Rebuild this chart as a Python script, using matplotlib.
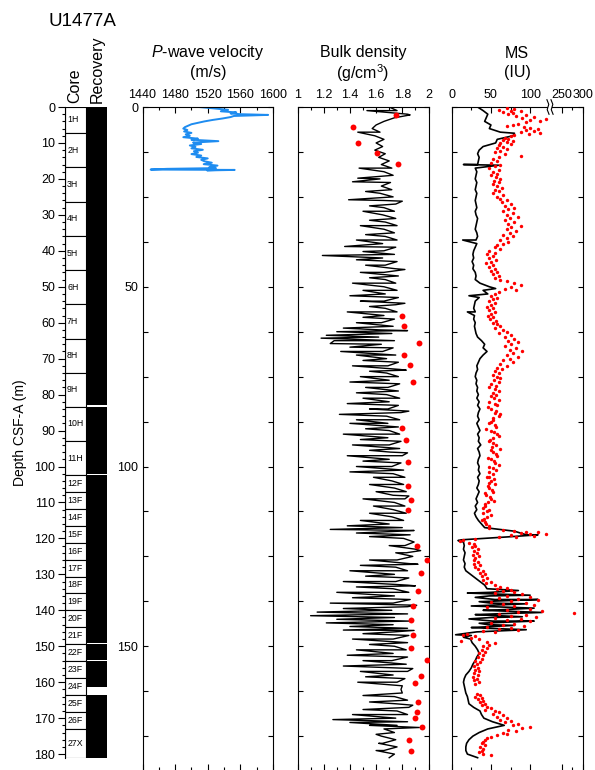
import numpy as np
import matplotlib.pyplot as plt
from matplotlib.patches import Rectangle
from matplotlib.ticker import MultipleLocator, FixedLocator, FixedFormatter

plt.rcParams['font.family'] = ['Liberation Sans', 'DejaVu Sans']
plt.rcParams['mathtext.fontset'] = 'custom'
plt.rcParams['mathtext.rm'] = 'Liberation Sans'
plt.rcParams['mathtext.it'] = 'Liberation Sans:italic'

# ---------------- data ----------------
core_name = ['1H', '2H', '3H', '4H', '5H', '6H', '7H', '8H', '9H', '10H', '11H',
             '12F', '13F', '14F', '15F', '16F', '17F', '18F', '19F', '20F', '21F',
             '22F', '23F', '24F', '25F', '26F', '27X']
core_top = [0.0, 7.2, 16.8, 26.4, 35.9, 45.4, 54.9, 64.4, 73.9, 83.4, 92.9,
            102.4, 107.1, 111.8, 116.5, 121.2, 125.9, 130.6, 135.3, 140.0, 144.7,
            149.4, 154.1, 158.8, 163.5, 168.2, 172.9]
core_bot = [7.2, 16.8, 26.4, 35.9, 45.4, 54.9, 64.4, 73.9, 83.4, 92.9, 102.4,
            107.1, 111.8, 116.5, 121.2, 125.9, 130.6, 135.3, 140.0, 144.7, 149.4,
            154.1, 158.8, 163.5, 168.2, 172.9, 181.0]
rec_bot = [7.2, 16.8, 26.4, 35.9, 45.4, 54.9, 64.4, 73.9, 83.0, 92.9, 102.0,
           107.1, 111.8, 116.5, 121.2, 125.9, 130.6, 135.3, 140.0, 144.7, 149.0,
           153.8, 158.8, 161.2, 168.2, 172.9, 181.0]

# P-wave (only top of hole)
pw_depth = [0.0, 0.4, 0.8, 1.2, 1.5, 1.8, 2.0, 2.2, 2.5, 2.8,
            3.2, 3.6, 4.0, 4.4, 4.8, 5.2, 5.6, 6.0, 6.4, 6.8,
            7.2, 7.6, 8.0, 8.4, 8.8, 9.1, 9.5, 9.9, 10.3, 10.7,
            11.1, 11.5, 11.9, 12.3, 12.7, 13.1, 13.5, 13.9, 14.3, 14.7,
            15.1, 15.5, 15.9, 16.3, 16.7, 17.0, 17.2, 17.4, 17.5, 17.6,
            17.7]
pw_vel = [1509, 1528, 1545, 1536, 1555, 1548, 1560, 1594, 1552, 1548,
          1538, 1526, 1516, 1508, 1500, 1496, 1492, 1490, 1495, 1491,
          1500, 1493, 1498, 1490, 1508, 1500, 1533, 1502, 1512, 1498,
          1505, 1500, 1514, 1503, 1508, 1500, 1512, 1506, 1520, 1512,
          1516, 1525, 1515, 1532, 1522, 1530, 1470, 1450, 1553, 1530,
          1520]

# GRA bulk density, read every 1 m from 0 m (alternating band edges)
dens_val = [1.70, 1.76, 1.84, 1.74, 1.66, 1.60, 1.57, 1.63, 1.59, 1.66,
            1.60, 1.65, 1.59, 1.67, 1.62, 1.70, 1.64, 1.72, 1.66, 1.73,
            1.63, 1.71, 1.64, 1.72, 1.63, 1.73, 1.66, 1.75, 1.66, 1.74,
            1.65, 1.75, 1.67, 1.76, 1.66, 1.74, 1.67, 1.76, 1.65, 1.75,
            1.66, 1.74, 1.65, 1.76, 1.67, 1.75, 1.66, 1.77, 1.67, 1.75,
            1.66, 1.76, 1.67, 1.77, 1.66, 1.75, 1.67, 1.76, 1.66, 1.74,
            1.64, 1.73, 1.63, 1.72, 1.62, 1.74, 1.64, 1.73, 1.65, 1.75,
            1.68, 1.77, 1.69, 1.78, 1.68, 1.77, 1.70, 1.78, 1.69, 1.77,
            1.68, 1.78, 1.70, 1.77, 1.69, 1.79, 1.68, 1.78, 1.69, 1.77,
            1.70, 1.78, 1.69, 1.79, 1.70, 1.78, 1.71, 1.80, 1.70, 1.79,
            1.72, 1.81, 1.73, 1.82, 1.72, 1.81, 1.74, 1.83, 1.73, 1.82,
            1.74, 1.82, 1.73, 1.83, 1.72, 1.81, 1.70, 1.80, 1.78, 1.86,
            1.81, 1.89, 1.82, 1.90, 1.83, 1.88, 1.76, 1.85, 1.75, 1.84,
            1.74, 1.85, 1.75, 1.84, 1.73, 1.85, 1.74, 1.86, 1.73, 1.84,
            1.72, 1.84, 1.74, 1.85, 1.73, 1.84, 1.74, 1.85, 1.73, 1.84,
            1.74, 1.83, 1.73, 1.84, 1.72, 1.83, 1.74, 1.84, 1.73, 1.82,
            1.76, 1.80, 1.79, 1.80, 1.74, 1.84, 1.75, 1.85, 1.76, 1.84,
            1.75, 1.84, 1.76, 1.66, 1.74, 1.64, 1.75, 1.65, 1.76, 1.66,
            1.74, 1.70]
# narrow excursions of the density log
dens_spk_depth = [1.0, 2.2, 7.0, 17.0, 19.8, 20.8, 23.5, 25.8, 26.2, 27.5,
                  29.0, 31.5, 33.0, 35.5, 37.0, 38.8, 40.2, 41.3, 42.5, 44.0,
                  45.2, 46.0, 47.5, 49.0, 51.0, 52.5, 54.0, 54.6, 55.5, 57.0,
                  58.5, 60.0, 61.5, 62.2, 62.5, 63.5, 64.3, 65.0, 65.8, 66.8,
                  68.0, 69.0, 70.5, 72.0, 73.2, 73.5, 75.0, 76.5, 78.0, 79.5,
                  81.0, 82.5, 84.0, 84.6, 85.5, 87.0, 88.0, 89.5, 91.0, 92.5,
                  94.0, 95.5, 96.2, 97.0, 98.5, 100.0, 101.5, 103.0, 105.0, 107.0,
                  108.2, 109.0, 111.0, 113.0, 115.0, 116.5, 117.5, 117.8, 118.5, 119.5,
                  122.0, 123.4, 124.0, 126.0, 127.2, 127.5, 129.0, 130.5, 132.0, 133.2,
                  133.5, 135.0, 136.5, 138.0, 138.6, 139.5, 140.5, 141.5, 142.5, 143.5,
                  144.5, 145.5, 145.6, 146.5, 148.0, 149.5, 151.0, 152.5, 154.0, 155.5,
                  156.2, 157.0, 158.5, 160.0, 163.7, 165.5, 166.4, 167.6, 169.0, 170.4,
                  171.2, 172.0, 172.6, 174.5, 177.0, 179.0]
dens_spk_val = [1.53, 1.86, 1.46, 1.47, 1.46, 1.42, 1.52, 1.39, 1.80, 1.55,
                1.50, 1.55, 1.48, 1.52, 1.45, 1.36, 1.50, 1.19, 1.45, 1.52,
                1.82, 1.48, 1.55, 1.42, 1.50, 1.40, 1.48, 1.82, 1.55, 1.38,
                1.50, 1.45, 1.35, 1.84, 1.30, 1.22, 1.18, 1.28, 1.25, 1.40,
                1.33, 1.45, 1.50, 1.42, 1.83, 1.55, 1.48, 1.40, 1.52, 1.45,
                1.50, 1.38, 1.55, 1.85, 1.32, 1.45, 1.40, 1.52, 1.35, 1.48,
                1.42, 1.55, 1.84, 1.38, 1.50, 1.45, 1.40, 1.58, 1.55, 1.60,
                1.85, 1.50, 1.58, 1.55, 1.48, 1.38, 1.25, 1.89, 1.45, 1.55,
                1.70, 1.94, 1.75, 1.55, 1.92, 1.48, 1.40, 1.52, 1.35, 1.90,
                1.45, 1.30, 1.42, 1.25, 1.91, 1.35, 1.15, 1.10, 1.30, 1.22,
                1.40, 1.35, 1.89, 1.50, 1.42, 1.55, 1.45, 1.38, 1.50, 1.35,
                1.88, 1.48, 1.52, 1.46, 1.50, 1.55, 1.88, 1.50, 1.42, 1.27,
                1.40, 1.55, 1.93, 1.60, 1.62, 1.60]
# discrete (MAD) bulk density
mad_depth = [2.2, 5.5, 9.9, 12.8, 15.8, 58.0, 61.0, 65.6, 69.0, 71.8,
             76.5, 89.3, 92.6, 98.7, 105.4, 109.3, 112.1, 122.1, 126.0, 129.6,
             134.6, 138.8, 142.7, 146.9, 150.5, 153.8, 158.3, 160.2, 165.5, 168.3,
             170.0, 172.5, 176.1, 179.1]
mad_dens = [1.75, 1.42, 1.46, 1.61, 1.77, 1.80, 1.81, 1.93, 1.81, 1.86,
            1.88, 1.80, 1.83, 1.84, 1.84, 1.87, 1.84, 1.91, 1.99, 1.94,
            1.92, 1.88, 1.87, 1.88, 1.87, 1.99, 1.94, 1.90, 1.92, 1.91,
            1.90, 1.95, 1.85, 1.87]

# whole-round MS, read every 1 m from 0 m
ms_val = [33, 40, 46, 44, 42, 50, 48, 62, 78, 58,
          56, 40, 35, 33, 35, 34, 33, 30, 32, 31,
          30, 32, 31, 30, 32, 31, 30, 31, 32, 30,
          31, 33, 32, 31, 30, 32, 33, 31, 32, 30,
          28, 27, 28, 26, 28, 27, 30, 31, 30, 36,
          48, 40, 46, 35, 30, 29, 28, 30, 29, 28,
          30, 29, 30, 31, 33, 38, 42, 40, 45, 40,
          36, 34, 32, 33, 31, 30, 32, 31, 33, 32,
          34, 32, 35, 33, 36, 34, 33, 35, 32, 34,
          36, 33, 35, 34, 37, 33, 35, 36, 34, 33,
          35, 34, 36, 33, 35, 34, 32, 35, 33, 31,
          33, 30, 32, 29, 31, 34, 38, 42, 80, 95,
          40, 15, 16, 15, 17, 16, 15, 17, 16, 18,
          24, 30, 36, 42, 45, 50, 48, 55, 50, 52,
          48, 55, 50, 52, 46, 45, 32, 25, 24, 26,
          30, 33, 35, 32, 30, 27, 25, 22, 18, 16,
          15, 16, 17, 18, 20, 21, 22, 28, 36, 38,
          41, 52, 67, 46, 35, 27, 22, 19, 18, 18,
          20, 33]
ms_spk_depth = [7.3, 16.0, 16.2, 37.0, 50.5, 52.5, 57.0, 119.0, 119.6, 120.4,
                120.6, 134.5, 135.2, 135.8, 136.4, 137.0, 137.6, 138.2, 138.8, 139.4,
                140.0, 140.6, 141.2, 141.8, 142.4, 143.0, 143.6, 144.2, 144.8, 145.4,
                146.8, 147.5]
ms_spk_val = [80, 15, 60, 14, 56, 22, 20, 110, 70, 12,
              8, 85, 20, 100, 30, 110, 35, 95, 25, 105,
              40, 115, 30, 90, 22, 105, 35, 80, 25, 95,
              5, 15]
# point MS
ms_pt_depth = [0.3, 0.5, 0.8, 1.0, 1.2, 1.5, 1.8, 2.0, 2.3, 2.6,
               2.9, 3.1, 3.4, 3.7, 4.0, 4.3, 4.6, 4.9, 5.2, 5.5,
               5.8, 6.1, 6.4, 6.7, 7.0, 7.3, 7.6, 7.9, 8.2, 8.5,
               8.8, 9.1, 9.4, 9.7, 10.0, 10.3, 10.6, 11.0, 11.4, 11.8,
               12.2, 12.6, 13.0, 13.6, 14.0, 14.5, 15.0, 15.5, 16.0, 16.5,
               17.0, 17.5, 18.0, 18.5, 19.0, 19.5, 20.0, 20.5, 21.0, 21.5,
               22.0, 22.5, 23.0, 23.5, 24.0, 24.5, 25.0, 25.5, 26.0, 26.5,
               27.0, 27.5, 28.0, 28.5, 29.0, 29.5, 30.0, 30.5, 31.0, 31.5,
               32.0, 32.5, 33.0, 33.5, 34.0, 34.5, 35.0, 35.5, 36.0, 36.5,
               37.0, 37.5, 38.0, 38.5, 39.0, 39.5, 40.0, 40.5, 41.0, 41.5,
               42.0, 42.5, 43.0, 43.5, 44.0, 44.5, 45.0, 45.5, 46.0, 46.5,
               47.0, 47.5, 48.0, 48.5, 49.0, 49.5, 50.0, 50.5, 51.0, 51.5,
               52.0, 52.5, 53.0, 53.5, 54.0, 54.5, 55.0, 55.5, 56.0, 56.5,
               57.0, 57.5, 58.0, 58.5, 59.0, 59.5, 60.0, 60.5, 61.0, 61.5,
               62.0, 62.5, 63.0, 63.5, 64.0, 64.5, 65.0, 65.5, 66.0, 66.5,
               67.0, 67.5, 68.0, 68.5, 69.0, 69.5, 70.0, 70.5, 71.0, 71.5,
               72.0, 72.5, 73.0, 73.5, 74.0, 74.5, 75.0, 75.5, 76.0, 76.5,
               77.0, 77.5, 78.0, 78.5, 79.0, 79.5, 80.0, 80.5, 81.0, 81.5,
               82.0, 82.5, 83.0, 83.5, 84.0, 84.5, 85.0, 85.5, 86.0, 86.5,
               87.0, 87.5, 88.0, 88.5, 89.0, 89.5, 90.0, 90.5, 91.0, 91.5,
               92.0, 92.5, 93.0, 93.5, 94.0, 94.5, 95.0, 95.5, 96.0, 96.5,
               97.0, 97.5, 98.0, 98.5, 99.0, 99.5, 100.0, 100.5, 101.0, 101.5,
               102.0, 102.8, 103.0, 103.5, 104.0, 104.5, 105.0, 105.5, 106.0, 106.5,
               107.0, 107.5, 108.0, 108.5, 109.0, 109.5, 110.0, 110.5, 111.0, 111.5,
               112.0, 112.5, 113.0, 113.5, 114.0, 114.5, 115.0, 115.5, 116.0, 116.5,
               117.0, 117.6, 117.9, 118.1, 118.3, 118.5, 118.7, 118.9, 119.1, 119.3,
               119.5, 119.7, 120.2, 120.5, 120.8, 121.2, 121.6, 122.0, 122.5, 123.0,
               123.5, 124.0, 124.5, 125.0, 125.5, 126.0, 126.5, 127.0, 127.5, 128.0,
               128.5, 129.0, 129.5, 130.0, 130.5, 131.0, 131.5, 132.0, 132.5, 133.0,
               133.5, 133.8, 134.1, 134.4, 134.7, 135.0, 135.3, 135.6, 135.9, 136.2,
               136.5, 136.8, 137.1, 137.4, 137.7, 138.0, 138.3, 138.6, 138.9, 139.2,
               139.5, 139.8, 140.1, 140.4, 140.7, 141.0, 141.3, 141.6, 141.9, 142.2,
               142.5, 142.8, 143.1, 143.4, 143.7, 144.0, 144.3, 144.6, 144.9, 145.2,
               145.5, 145.8, 146.1, 146.5, 146.8, 147.2, 147.6, 148.0, 148.5, 148.8,
               149.2, 149.6, 150.0, 150.5, 151.0, 151.5, 152.0, 152.5, 153.0, 153.5,
               154.0, 154.5, 155.0, 155.5, 156.0, 156.5, 157.0, 157.5, 158.0, 158.5,
               159.0, 159.5, 160.0, 160.5, 163.2, 163.6, 164.0, 164.4, 164.8, 165.2,
               165.6, 166.0, 166.4, 166.8, 167.2, 167.6, 168.0, 168.4, 168.8, 169.2,
               169.6, 170.0, 170.4, 170.8, 171.2, 171.6, 172.0, 172.4, 172.8, 173.2,
               173.6, 174.0, 174.4, 174.8, 175.2, 175.6, 176.0, 176.5, 177.0, 177.5,
               178.0, 178.5, 179.0, 179.5, 180.0, 180.3]
ms_pt_val = [70, 80, 60, 75, 88, 65, 78, 72, 95, 82,
             105, 90, 120, 100, 112, 95, 85, 78, 70, 92,
             100, 110, 95, 105, 88, 112, 98, 80, 75, 68,
             72, 65, 78, 70, 62, 75, 60, 66, 58, 70,
             62, 55, 68, 88, 60, 52, 58, 50, 62, 55,
             48, 60, 52, 58, 50, 56, 62, 54, 60, 52,
             58, 64, 55, 60, 52, 66, 58, 62, 70, 64,
             75, 68, 80, 72, 66, 78, 70, 85, 74, 68,
             80, 72, 88, 76, 70, 82, 74, 66, 78, 70,
             62, 72, 65, 58, 55, 62, 48, 55, 45, 52,
             48, 56, 50, 44, 52, 48, 55, 50, 58, 52,
             60, 55, 62, 70, 80, 88, 75, 68, 82, 60,
             55, 50, 58, 52, 48, 55, 50, 45, 52, 48,
             55, 50, 46, 53, 49, 56, 52, 58, 62, 55,
             65, 70, 60, 75, 68, 80, 72, 85, 76, 68,
             82, 74, 90, 78, 70, 84, 74, 66, 78, 62,
             70, 58, 64, 55, 60, 52, 58, 62, 54, 60,
             50, 56, 48, 55, 60, 52, 57, 50, 54, 60,
             48, 55, 58, 46, 50, 56, 55, 62, 60, 53,
             52, 50, 47, 55, 56, 44, 50, 54, 58, 60,
             53, 49, 48, 52, 56, 51, 62, 50, 52, 57,
             58, 46, 50, 54, 55, 60, 48, 53, 56, 48,
             52, 47, 45, 54, 50, 48, 55, 46, 47, 51,
             52, 42, 44, 49, 50, 54, 46, 43, 42, 40,
             48, 45, 40, 50, 45, 41, 38, 42, 44, 47,
             48, 65, 80, 95, 110, 88, 120, 100, 75, 105,
             60, 82, 30, 15, 10, 22, 28, 30, 26, 34,
             28, 32, 27, 35, 30, 28, 33, 29, 36, 30,
             34, 40, 36, 42, 38, 45, 40, 50, 44, 55,
             62, 70, 58, 75, 65, 80, 55, 90, 70, 100,
             60, 85, 110, 75, 50, 95, 65, 105, 80, 45,
             100, 70, 115, 85, 280, 60, 95, 75, 108, 55,
             88, 70, 100, 50, 80, 65, 92, 45, 75, 60,
             85, 40, 55, 20, 14, 30, 25, 35, 12, 45,
             55, 48, 40, 45, 38, 42, 35, 40, 33, 38,
             30, 36, 32, 28, 34, 30, 35, 28, 33, 27,
             32, 28, 35, 30, 32, 36, 30, 38, 34, 40,
             36, 42, 38, 45, 50, 42, 55, 60, 52, 65,
             58, 70, 62, 75, 68, 85, 78, 100, 90, 72,
             82, 65, 70, 58, 50, 45, 42, 40, 38, 42,
             36, 40, 38, 35, 40, 50]


def merge(base, spk_d, spk_v):
    # regular log readings plus the narrow excursions, sorted by depth
    d = np.concatenate([np.arange(len(base), dtype=float), spk_d])
    v = np.concatenate([np.asarray(base, float), spk_v])
    o = np.argsort(d, kind='stable')
    return d[o], v[o]


# MS axis is broken between ~124 and ~219 IU
K1, K2, B1, B2 = 0.785, 0.414, 124.0, 218.6


def ms_fwd(x):
    x = np.asarray(x, float)
    return np.where(x <= B1, x * K1, B1 * K1 + np.clip(x - B2, 0, None) * K2)


def ms_inv(u):
    u = np.asarray(u, float)
    return np.where(u <= B1 * K1, u / K1, B2 + (u - B1 * K1) / K2)


# ---------------- layout ----------------
W, H = 595, 770
PXM = 3.595  # pixels per metre


def rect(x0, x1, y0, y1):
    return [x0 / W, 1 - y1 / H, (x1 - x0) / W, (y1 - y0) / H]


fig = plt.figure(figsize=(W / 100, H / 100), dpi=100)

# core / recovery column
ax_c = fig.add_axes(rect(65, 107, 107, 107 + 181.2 * PXM))
ax_c.set_xlim(0, 2)
ax_c.set_ylim(181.2, 0)
for t, b, rb, n in zip(core_top, core_bot, rec_bot, core_name):
    ax_c.add_patch(Rectangle((0, t), 1, b - t, fc='white', ec='black', lw=0.8))
    ax_c.add_patch(Rectangle((1, t), 1, rb - t, fc='black', ec='none'))
    ax_c.text(0.1, (t + b) / 2, n, fontsize=6.3, ha='left', va='center')
for s in ['top', 'right', 'bottom']:
    ax_c.spines[s].set_visible(False)
ax_c.spines['left'].set_linewidth(0.8)
ax_c.set_xticks([])
ax_c.yaxis.set_major_locator(MultipleLocator(10))
ax_c.yaxis.set_minor_locator(MultipleLocator(2))
ax_c.tick_params(axis='y', which='major', direction='out', length=5, width=0.8, labelsize=9, pad=2)
ax_c.tick_params(axis='y', which='minor', direction='out', length=2.5, width=0.8)
ax_c.set_ylabel('Depth CSF-A (m)', fontsize=10, labelpad=5)

fig.text(49 / W, 1 - 22 / H, 'U1477A', fontsize=13.5, ha='left', va='center')
fig.text(75 / W, 1 - 103 / H, 'Core', fontsize=11.5, rotation=90, ha='center', va='bottom')
fig.text(97 / W, 1 - 103 / H, 'Recovery', fontsize=11.5, rotation=90, ha='center', va='bottom')

ybot = 107 + 184.5 * PXM
ax_p = fig.add_axes(rect(142.5, 273.0, 107, ybot))
ax_d = fig.add_axes(rect(297.5, 428.5, 107, ybot))
ax_m = fig.add_axes(rect(451.7, 582.7, 107, ybot))

for ax in (ax_p, ax_d, ax_m):
    ax.set_ylim(184.5, 0)
    ax.spines['bottom'].set_visible(False)
    for s in ['top', 'left', 'right']:
        ax.spines[s].set_linewidth(0.8)
    ax.yaxis.set_major_locator(FixedLocator([0, 50, 100, 150]))
    ax.yaxis.set_minor_locator(MultipleLocator(12.5))
    ax.tick_params(axis='y', which='both', direction='in', left=True, right=True,
                   length=3.5, width=0.8, labelsize=9, pad=3)
    ax.tick_params(axis='x', which='major', direction='in', top=True, bottom=True,
                   labeltop=True, labelbottom=False, length=4.5, width=0.8, labelsize=9, pad=4)
    ax.tick_params(axis='x', which='minor', direction='in', top=True, bottom=True,
                   length=2.5, width=0.8)
for ax in (ax_d, ax_m):
    ax.tick_params(axis='y', which='both', labelleft=False)

# P-wave
ax_p.plot(pw_vel, pw_depth, color='#1e8cf0', lw=1.4)
ax_p.set_xlim(1440, 1600)
ax_p.xaxis.set_major_locator(MultipleLocator(40))
ax_p.xaxis.set_minor_locator(MultipleLocator(20))

# bulk density
dd, dv = merge(dens_val, dens_spk_depth, dens_spk_val)
ax_d.plot(dv, dd, color='black', lw=1.0)
ax_d.scatter(mad_dens, mad_depth, s=18, color='red', linewidths=0, zorder=3)
ax_d.set_xlim(1, 2)
ax_d.xaxis.set_major_locator(FixedLocator([1, 1.2, 1.4, 1.6, 1.8, 2]))
ax_d.xaxis.set_major_formatter(FixedFormatter(['1', '1.2', '1.4', '1.6', '1.8', '2']))
ax_d.xaxis.set_minor_locator(MultipleLocator(0.1))

# MS
ax_m.set_xscale('function', functions=(ms_fwd, ms_inv))
md, mv = merge(ms_val, ms_spk_depth, ms_spk_val)
ax_m.plot(mv, md, color='black', lw=1.2)
ax_m.scatter(ms_pt_val, ms_pt_depth, s=6, color='red', linewidths=0, zorder=3)
ax_m.set_xlim(0, 300)
ax_m.xaxis.set_major_locator(FixedLocator([0, 50, 100, 250, 300]))
ax_m.xaxis.set_major_formatter(FixedFormatter(['0', '50', '100', '250', '300']))
ax_m.xaxis.set_minor_locator(FixedLocator([25, 75, 275]))

# break marks on the MS scale
xb0, xb1 = 0.735, 0.766
ax_m.add_patch(Rectangle((xb0, 0.99), xb1 - xb0, 0.02, transform=ax_m.transAxes,
                         fc='white', ec='none', clip_on=False, zorder=5))
for xb in (xb0, xb1):
    ax_m.plot([xb - 0.008, xb + 0.006, xb - 0.006, xb + 0.008],
              [1.011, 1.004, 0.996, 0.989], transform=ax_m.transAxes,
              color='black', lw=0.8, clip_on=False, zorder=6)

# panel headings
for xc, l1, l2 in [(208, r'$\mathit{P}$-wave velocity', '(m/s)'),
                   (363, 'Bulk density', r'(g/cm$^3$)'),
                   (517, 'MS', '(IU)')]:
    fig.text(xc / W, 1 - 53 / H, l1, fontsize=11.5, ha='center', va='center')
    fig.text(xc / W, 1 - 73 / H, l2, fontsize=11.5, ha='center', va='center')

fig.savefig('out.png', dpi=100)
